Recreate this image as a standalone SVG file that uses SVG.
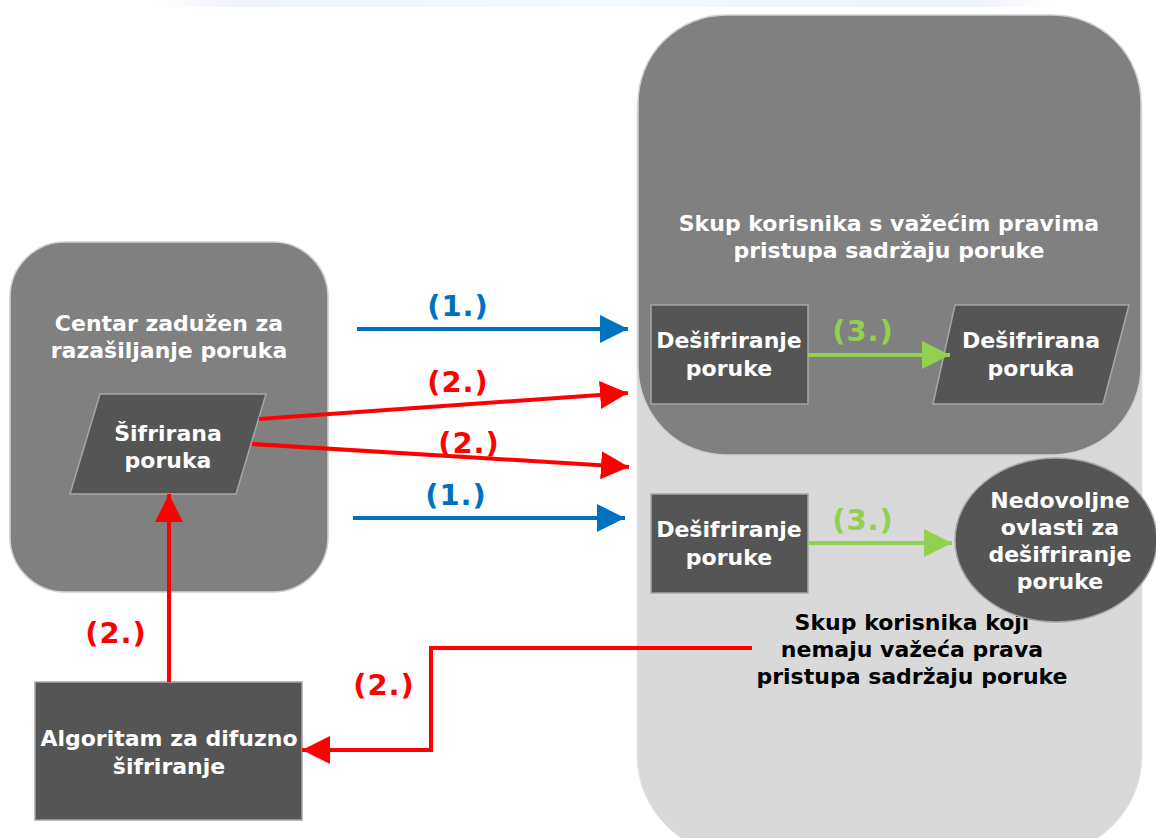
<svg xmlns="http://www.w3.org/2000/svg" width="1156" height="838" viewBox="0 0 1156 838">
<defs>
<linearGradient id="topg" x1="0" x2="1" y1="0" y2="0">
<stop offset="0" stop-color="#ffffff"/>
<stop offset="0.1" stop-color="#f0f3fb"/>
<stop offset="0.5" stop-color="#f2fbfd"/>
<stop offset="0.9" stop-color="#eef2fa"/>
<stop offset="1" stop-color="#ffffff"/>
</linearGradient>
<marker id="ab" viewBox="0 0 10 10" refX="10" refY="5" markerWidth="7" markerHeight="7" markerUnits="strokeWidth" orient="auto"><path d="M0,0 L10,5 L0,10 z" fill="#0070c0"/></marker>
<marker id="ar" viewBox="0 0 10 10" refX="10" refY="5" markerWidth="7" markerHeight="7" markerUnits="strokeWidth" orient="auto"><path d="M0,0 L10,5 L0,10 z" fill="#ff0000"/></marker>
<marker id="ag" viewBox="0 0 10 10" refX="10" refY="5" markerWidth="7" markerHeight="7" markerUnits="strokeWidth" orient="auto"><path d="M0,0 L10,5 L0,10 z" fill="#92d050"/></marker>
</defs>
<style>
text{font-family:"DejaVu Sans","Verdana",sans-serif;font-weight:bold;text-anchor:middle}
.w{fill:#ffffff;font-size:22px}
.k{fill:#000000;font-size:22px}
.node{fill:#555555;stroke:#a6a6a6;stroke-width:1.5}
.grp{fill:#808080;stroke:#d0d0d0;stroke-width:1.5}
.lb{font-size:29px;letter-spacing:1px}
.blue{stroke:#0070c0;stroke-width:4;fill:none}
.red{stroke:#ff0000;stroke-width:4;fill:none}
.green{stroke:#92d050;stroke-width:4;fill:none}
</style>
<rect x="150" y="0" width="910" height="7" fill="url(#topg)"/>

<g id="grp-nevazeca">
<rect x="637" y="15" width="505" height="840" rx="100" ry="100" fill="#d9d9d9" stroke="#e6e6e6" stroke-width="1"/>
<text class="k" x="912" y="630">Skup korisnika koji</text>
<text class="k" x="912" y="657">nemaju važeća prava</text>
<text class="k" x="912" y="684">pristupa sadržaju poruke</text>
</g>
<g id="grp-vazeca">
<rect class="grp" x="638" y="15" width="503" height="440" rx="88" ry="88"/>
<text class="w" x="889" y="231">Skup korisnika s važećim pravima</text>
<text class="w" x="889" y="258">pristupa sadržaju poruke</text>
</g>
<g id="grp-centar">
<rect class="grp" x="10" y="242" width="318" height="350" rx="55" ry="55"/>
<text class="w" x="169" y="331">Centar zadužen za</text>
<text class="w" x="169" y="358">razašiljanje poruka</text>
</g>

<g id="sifrirana">
<polygon class="node" points="100,394 266,394 236,494 70,494"/>
<text class="w" x="168" y="441">Šifrirana</text>
<text class="w" x="168" y="468">poruka</text>
</g>
<g id="algoritam">
<rect class="node" x="35" y="682" width="267" height="138"/>
<text class="w" x="169" y="746">Algoritam za difuzno</text>
<text class="w" x="169" y="774">šifriranje</text>
</g>
<g id="desifriranje1">
<rect class="node" x="651" y="305" width="157" height="99"/>
<text class="w" x="729" y="348">Dešifriranje</text>
<text class="w" x="729" y="376">poruke</text>
</g>
<g id="desifrirana">
<polygon class="node" points="955,305 1129,305 1103,404 933,404"/>
<text class="w" x="1031" y="348">Dešifrirana</text>
<text class="w" x="1031" y="376">poruka</text>
</g>
<g id="desifriranje2">
<rect class="node" x="651" y="494" width="157" height="99"/>
<text class="w" x="729" y="537">Dešifriranje</text>
<text class="w" x="729" y="565">poruke</text>
</g>
<g id="nedovoljne">
<ellipse class="node" cx="1056" cy="540" rx="101" ry="82"/>
<text class="w" x="1060" y="508">Nedovoljne</text>
<text class="w" x="1060" y="535">ovlasti za</text>
<text class="w" x="1060" y="562">dešifriranje</text>
<text class="w" x="1060" y="589">poruke</text>
</g>

<g id="connectors">
<line class="blue" x1="357" y1="329" x2="628" y2="329" marker-end="url(#ab)"/>
<line class="blue" x1="353" y1="518" x2="625" y2="518" marker-end="url(#ab)"/>
<line class="red" x1="259" y1="419" x2="628" y2="393" marker-end="url(#ar)"/>
<line class="red" x1="252" y1="444" x2="629" y2="467" marker-end="url(#ar)"/>
<line class="red" x1="169" y1="682" x2="169" y2="494" marker-end="url(#ar)"/>
<polyline class="red" points="752,648 431,648 431,750 302,750" marker-end="url(#ar)"/>
<line class="green" x1="808" y1="355" x2="950" y2="355" marker-end="url(#ag)"/>
<line class="green" x1="808" y1="543" x2="952" y2="543" marker-end="url(#ag)"/>
<text class="lb" x="458" y="316" fill="#0070c0">(1.)</text>
<text class="lb" x="456" y="505" fill="#0070c0">(1.)</text>
<text class="lb" x="458" y="392" fill="#ff0000">(2.)</text>
<text class="lb" x="469" y="453" fill="#ff0000">(2.)</text>
<text class="lb" x="116" y="643" fill="#ff0000">(2.)</text>
<text class="lb" x="384" y="695" fill="#ff0000">(2.)</text>
<text class="lb" x="863" y="341" fill="#92d050">(3.)</text>
<text class="lb" x="863" y="530" fill="#92d050">(3.)</text>
</g>
</svg>
